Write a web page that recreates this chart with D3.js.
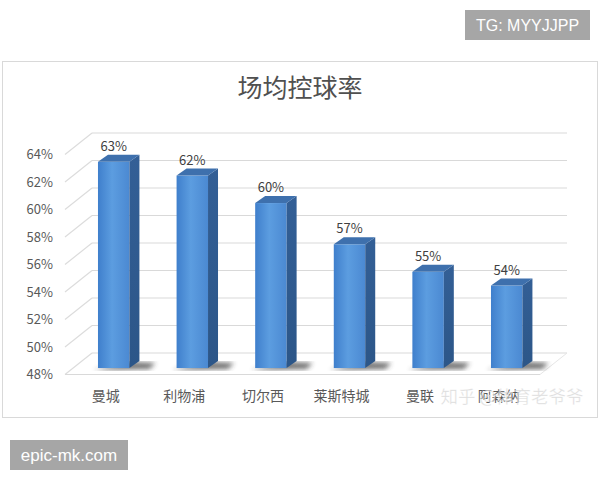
<!DOCTYPE html>
<html><head><meta charset="utf-8">
<script src="https://cdn.jsdelivr.net/npm/d3@7"></script>
<style>body{margin:0;background:#fff}svg{display:block}</style>
</head><body>
<svg id="c" width="600" height="480"></svg>
<script>
const categories = ["曼城","利物浦","切尔西","莱斯特城","曼联","阿森纳"];
const values = [0.63,0.62,0.60,0.57,0.55,0.54];
const tickValues = [0.48,0.50,0.52,0.54,0.56,0.58,0.60,0.62,0.64];
const title = "场均控球率";

const svg = d3.select("#c");
const font = "'Noto Sans CJK SC','Microsoft YaHei',sans-serif";
const defs = svg.append("defs");
const g1 = defs.append("linearGradient").attr("id","front").attr("x1","0").attr("x2","1").attr("y1","0").attr("y2","0");
g1.append("stop").attr("offset","0").attr("stop-color","#3f7fcc");
g1.append("stop").attr("offset","0.45").attr("stop-color","#5c9de0");
g1.append("stop").attr("offset","1").attr("stop-color","#4b89d2");
const g2 = defs.append("linearGradient").attr("id","side").attr("x1","0").attr("x2","0").attr("y1","0").attr("y2","1");
g2.append("stop").attr("offset","0").attr("stop-color","#335f96");
g2.append("stop").attr("offset","1").attr("stop-color","#2c5688");
defs.append("filter").attr("id","blur").append("feGaussianBlur").attr("stdDeviation","2.5");

// frame
svg.append("rect").attr("x",2.5).attr("y",61.5).attr("width",595).attr("height",356)
  .attr("fill","#fff").attr("stroke","#d9d9d9");

svg.append("text").attr("x",300).attr("y",97).attr("text-anchor","middle")
  .attr("font-family",font).attr("font-size",25).attr("fill","#505050").text(title);

// 3D geometry
const DX = -27, DY = 21.5;         // back wall -> front edge offset
const yBack = d3.scaleLinear().domain([0.48,0.64]).range([353,133]);
const backX0 = 92, backX1 = 567;
const depthF = 0.7;                 // bars' front plane depth fraction
const x = d3.scaleBand().domain(categories).range([74.4,546]).paddingInner(0.6).paddingOuter(0.3);
const yFront = v => yBack(v) + DY*depthF;
const SX = 10, SY = -7;             // bar depth

// gridlines on back wall + side wall diagonals
const grid = svg.append("g");
tickValues.forEach(t => {
  const yb = yBack(t);
  grid.append("line").attr("x1",backX0).attr("x2",backX1).attr("y1",yb).attr("y2",yb)
    .attr("stroke","#d9d9d9").attr("stroke-width",1.2);
  grid.append("line").attr("x1",backX0+DX).attr("y1",yb+DY).attr("x2",backX0).attr("y2",yb)
    .attr("stroke","#dcdcdc").attr("stroke-width",1.2);
  grid.append("text").attr("x",53).attr("y",yb+DY).attr("dy","0.35em").attr("text-anchor","end")
    .attr("font-family",font).attr("font-size",13).attr("fill","#595959")
    .text(d3.format(".0%")(t));
});
// floor front edge and right edge
const yb0 = yBack(0.48);
grid.append("line").attr("x1",backX0+DX).attr("x2",backX1+DX).attr("y1",yb0+DY).attr("y2",yb0+DY)
  .attr("stroke","#d9d9d9").attr("stroke-width",1.2);
grid.append("line").attr("x1",backX1+DX).attr("y1",yb0+DY).attr("x2",backX1).attr("y2",yb0)
  .attr("stroke","#e6e6e6").attr("stroke-width",1);

// bars
const bars = svg.append("g");
categories.forEach((c,i) => {
  const v = values[i];
  const x0 = x(c), w = x.bandwidth();
  const yt = yFront(v), yb = yFront(0.48);
  // shadow
  bars.append("path").attr("filter","url(#blur)").attr("fill","#333").attr("opacity",0.7)
    .attr("d",`M${x0-4},${yb+2} L${x0+w+SX+10},${yb+1} L${x0+w+SX+16},${yb-5} L${x0+w},${yb-6} Z`);
  // front
  bars.append("rect").attr("x",x0).attr("y",yt).attr("width",w).attr("height",yb-yt).attr("fill","url(#front)");
  // side
  bars.append("path").attr("fill","url(#side)")
    .attr("d",`M${x0+w},${yt} L${x0+w+SX},${yt+SY} L${x0+w+SX},${yb+SY} L${x0+w},${yb} Z`);
  // top
  bars.append("path").attr("fill","#3e70ad")
    .attr("d",`M${x0},${yt} L${x0+SX},${yt+SY} L${x0+w+SX},${yt+SY} L${x0+w},${yt} Z`);
  // value label
  bars.append("text").attr("x",x0+w/2).attr("y",yt+SY-4).attr("text-anchor","middle")
    .attr("font-family",font).attr("font-size",13).attr("fill","#404040")
    .text(d3.format(".0%")(v));
  // category label
  bars.append("text").attr("x",x0+w/2-8).attr("y",yBack(0.48)+DY+22).attr("dy","0.35em")
    .attr("text-anchor","middle").attr("font-family",font).attr("font-size",14).attr("fill","#595959").text(c);
});

// watermarks
svg.append("text").attr("x",512).attr("y",397).attr("dy","0.35em").attr("text-anchor","middle")
  .attr("font-family",font).attr("font-size",17.5).attr("fill","rgba(190,190,190,0.55)")
  .attr("stroke","rgba(255,255,255,0.6)").attr("stroke-width",0.6).text("知乎 @体育老爷爷");

svg.append("rect").attr("x",465).attr("y",10).attr("width",125).attr("height",30).attr("fill","#a6a6a6");
svg.append("text").attr("x",527.5).attr("y",25).attr("dy","0.35em").attr("text-anchor","middle")
  .attr("font-family","'Liberation Sans',Arial,sans-serif").attr("font-size",16).attr("fill","#fff").text("TG: MYYJJPP");
svg.append("rect").attr("x",10).attr("y",440).attr("width",118).attr("height",30).attr("fill","#a6a6a6");
svg.append("text").attr("x",69).attr("y",455).attr("dy","0.35em").attr("text-anchor","middle")
  .attr("font-family","'Liberation Sans',Arial,sans-serif").attr("font-size",17).attr("fill","#fff").text("epic-mk.com");
</script>
</body></html>
